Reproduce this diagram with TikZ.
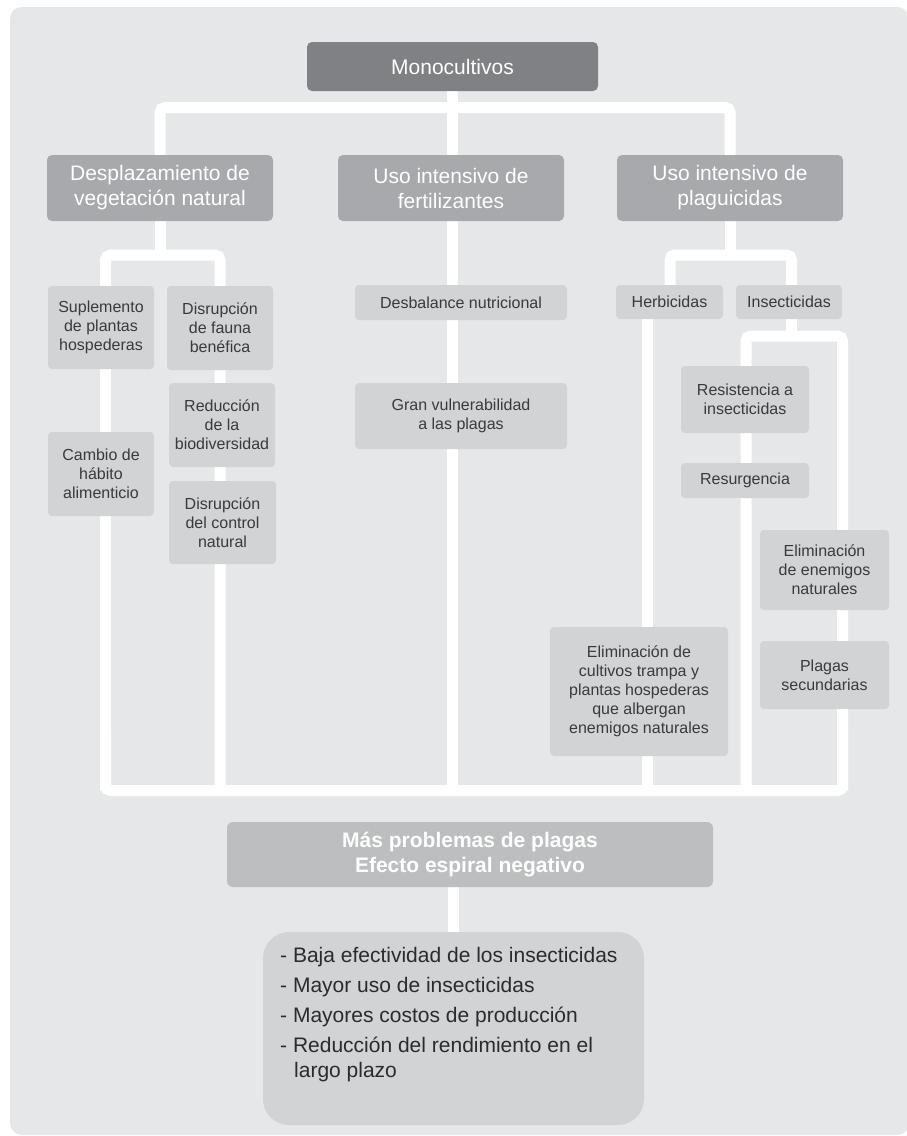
\documentclass[tikz,border=0pt]{standalone}
\usepackage{fontspec}
\setmainfont{Liberation Sans}
\definecolor{panelc}{HTML}{E6E7E8}
\definecolor{darkc}{HTML}{808184}
\definecolor{midc}{HTML}{A7A9AC}
\definecolor{lightc}{HTML}{D1D3D4}
\definecolor{masc}{HTML}{BCBEC0}
\definecolor{txtc}{HTML}{3A3A3A}
\definecolor{listtxt}{HTML}{2B2B2B}
\pgfdeclarelayer{panellayer}
\pgfdeclarelayer{connlayer}
\pgfsetlayers{panellayer,connlayer,main}
\begin{document}
\begin{tikzpicture}[x=1pt,y=-1pt,
  conn/.style={draw=white,line width=11pt,rounded corners=5pt},
  boxbase/.style={rectangle,inner sep=0pt,align=center},
  topbox/.style={boxbase,fill=darkc,rounded corners=5pt,text=white,font=\fontsize{21}{25}\selectfont},
  catbox/.style={boxbase,fill=midc,rounded corners=5pt,text=white,font=\fontsize{21}{25}\selectfont},
  smallbox/.style={boxbase,fill=lightc,rounded corners=4pt,text=txtc,font=\fontsize{16}{19}\selectfont},
  masbox/.style={boxbase,fill=masc,rounded corners=6pt,text=white,font=\fontsize{21}{25}\selectfont\bfseries},
  listbox/.style={rectangle,inner sep=0pt,fill=lightc,rounded corners=26pt},
  listtext/.style={inner sep=0pt,align=left,text=listtxt,font=\fontsize{21}{25}\selectfont}
]
\useasboundingbox (0,0) rectangle (907,1136);
\begin{pgfonlayer}{panellayer}
  \fill[panelc,rounded corners=12pt] (10,7) rectangle (909,1135);
\end{pgfonlayer}

% top
\node[topbox,minimum width=291pt,minimum height=49pt] (mono) at (452.5,66.5) {Monocultivos};
\node[catbox,minimum width=226pt,minimum height=66pt] (d1) at (160,188) {Desplazamiento de\\vegetación natural};
\node[catbox,minimum width=226pt,minimum height=66pt] (d2) at (451,188) {Uso intensivo de\\fertilizantes};
\node[catbox,minimum width=226pt,minimum height=66pt] (d3) at (730,188) {Uso intensivo de\\plaguicidas};

% left column
\node[smallbox,minimum width=106pt,minimum height=83pt] (sup) at (101,327.5) {Suplemento\\de plantas\\hospederas};
\node[smallbox,minimum width=106pt,minimum height=84pt] (fauna) at (220,328) {Disrupción\\de fauna\\benéfica};
\node[smallbox,minimum width=106pt,minimum height=84pt] (reduc) at (222,425) {Reducción\\de la\\biodiversidad};
\node[smallbox,minimum width=106pt,minimum height=84pt] (cambio) at (101,474) {Cambio de\\hábito\\alimenticio};
\node[smallbox,minimum width=107pt,minimum height=83pt] (control) at (222.5,522.5) {Disrupción\\del control\\natural};

% middle column
\node[smallbox,minimum width=212pt,minimum height=35pt] (desbal) at (461,302.5) {Desbalance nutricional};
\node[smallbox,minimum width=212pt,minimum height=66pt] (gran) at (461,416) {Gran vulnerabilidad\\a las plagas};

% right column
\node[smallbox,minimum width=107pt,minimum height=34pt] (herb) at (669.5,302) {Herbicidas};
\node[smallbox,minimum width=106pt,minimum height=34pt] (insect) at (789,302) {Insecticidas};
\node[smallbox,minimum width=128pt,minimum height=67pt] (resist) at (745,399.5) {Resistencia a\\insecticidas};
\node[smallbox,minimum width=128pt,minimum height=35pt] (resurg) at (745,480.5) {Resurgencia};
\node[smallbox,minimum width=129pt,minimum height=80pt] (elimen) at (824.5,570) {Eliminación\\de enemigos\\naturales};
\node[smallbox,minimum width=178pt,minimum height=129pt] (elimcult) at (639,691.5) {Eliminación de\\cultivos trampa y\\plantas hospederas\\que albergan\\enemigos naturales};
\node[smallbox,minimum width=129pt,minimum height=68pt] (plagsec) at (824.5,675) {Plagas\\secundarias};

% bottom
\node[masbox,minimum width=486pt,minimum height=65pt] (mas) at (470,854.5) {Más problemas de plagas\\Efecto espiral negativo};
\node[listbox,minimum width=381pt,minimum height=193pt] (list) at (453.5,1028.5) {};
\node[listtext,anchor=north west] (lt) at (280,947) {- Baja efectividad de los insecticidas\\[5pt]- Mayor uso de insecticidas\\[5pt]- Mayores costos de producción\\[5pt]- Reducción del rendimiento en el\\\hspace*{14pt}largo plazo};

% connectors
\coordinate (jtop) at (452.5,107.5);
\coordinate (bl) at (105.5,790.5);
\coordinate (br) at (842.5,790.5);
\coordinate (sL) at (105.5,255);
\coordinate (sR) at (220,255);
\coordinate (pL) at (670,255);
\coordinate (pR) at (791.5,255);
\coordinate (hx) at (647.5,319);
\coordinate (iL) at (746,336);
\coordinate (iR) at (842.5,336);
\begin{pgfonlayer}{connlayer}
  \draw[conn] (mono.south) -- (mono.south |- bl);
  \draw[conn] (d1.north) -- (d1.north |- jtop) -- (d3.north |- jtop) -- (d3.north);
  \draw[conn] (d1.south) -- (d1.south |- sL);
  \draw[conn] (sL |- bl) -- (sL) -- (sR) -- (sR |- bl);
  \draw[conn] (d3.south) -- (d3.south |- pL);
  \draw[conn] (pL |- herb.north) -- (pL) -- (pR) -- (pR |- insect.north);
  \draw[conn] (hx |- herb.south) -- (hx |- bl);
  \draw[conn] (pR |- insect.south) -- (pR |- iL);
  \draw[conn] (iL |- bl) -- (iL) -- (iR) -- (iR |- bl);
  \draw[conn] ([yshift=60pt]bl) -- (bl) -- (br) -- ([yshift=60pt]br);
  \draw[conn] (list.north |- mas.south) -- (list.north);
\end{pgfonlayer}
\end{tikzpicture}
\end{document}
